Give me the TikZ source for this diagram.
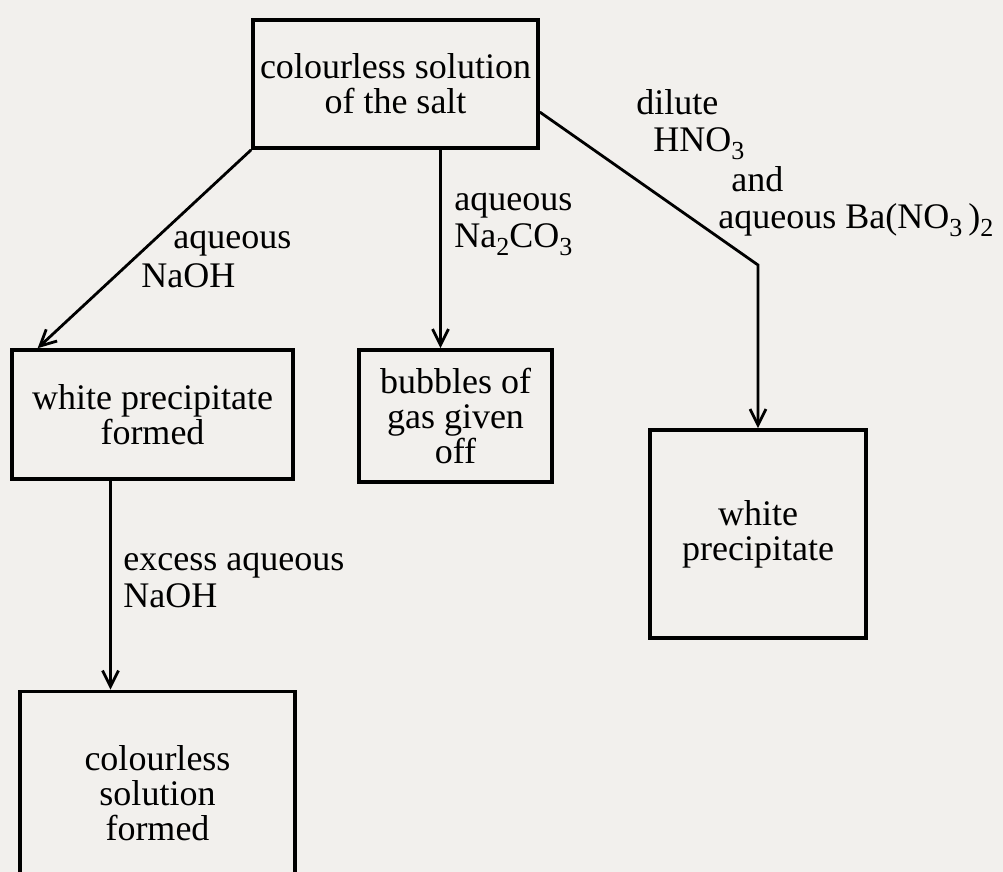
\documentclass[tikz,border=0pt]{standalone}
\usepackage{fontspec}
\setmainfont{Liberation Serif}
\usetikzlibrary{arrows.meta}

\definecolor{paper}{RGB}{242,240,237}
\newcommand{\boxfont}{\fontsize{18}{17.5}\selectfont}
\newcommand{\labelfont}{\fontsize{18}{18.5}\selectfont}
\newcommand{\chsub}[1]{\raisebox{-4pt}{\fontsize{13}{13}\selectfont #1}}

\begin{document}
\begin{tikzpicture}[->,>={Straight Barb[length=8pt,width=8pt]},line width=1.4pt,
            x=0.5pt,y=-0.5pt]
        \tikzstyle{box}=[draw,line width=1.8pt,inner sep=0pt,align=center,font=\boxfont]
        \tikzstyle{lbl}=[inner sep=0pt,align=left,anchor=base west,font=\labelfont]

        \fill[paper,-] (0,0) rectangle (1003,872);
        \useasboundingbox (0,0) rectangle (1003,872);

        \node[box,minimum width=142.5pt,minimum height=64pt] (salt) at (395.5,84) {colourless solution\\of the salt};
        \node[box,minimum width=140.5pt,minimum height=64.5pt] (wp) at (152.5,414.5) {white precipitate\\formed};
        \node[box,minimum width=96.5pt,minimum height=66pt] (bub) at (455.5,416) {bubbles of\\gas given\\off};
        \node[box,minimum width=108pt,minimum height=104pt] (wpr) at (758,534) {white\\precipitate};
        \node[box,minimum width=137.5pt,minimum height=101.5pt] (csf) at (157.5,793) {colourless\\solution\\formed};

        % reagents (base anchor sits on the last line)
        \node[lbl] (naoh) at (140,288) {\hspace*{16pt}aqueous\\[1.5pt]NaOH};
        \node[lbl] (carb) at (453,248) {aqueous\\Na\chsub{2}CO\chsub{3}};
        \node[lbl] (acid) at (635,152) {dilute\\\hspace*{8.5pt}HNO\chsub{3}};
        \node[lbl] (baso) at (717,228) {\hspace*{6.5pt}and\\[-0.5pt]aqueous Ba(NO\chsub{3}\,)\chsub{2}};
        \node[lbl] (xs) at (122,607) {excess aqueous\\NaOH};

        \coordinate (naco) at ([xshift=-7.5pt]bub.north);
        \coordinate (bend) at (758,265);
        \coordinate (exc) at ([xshift=-21pt]wp.south);

        \path
            (salt.south west) edge (wp.150);
        \draw (naco |- salt.south) -- (naco);
        \draw (salt.-11.5) -- (bend) -- (wpr.north);
        \draw (exc) -- (exc |- csf.north);

\end{tikzpicture}
\end{document}
